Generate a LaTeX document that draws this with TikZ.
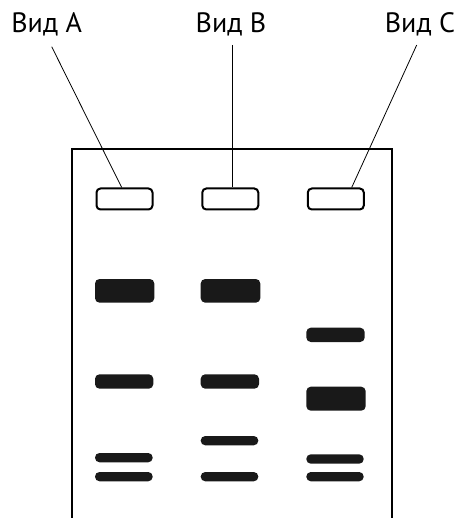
\documentclass[tikz,border=0pt]{standalone}
\usepackage{fontspec}
\setmainfont{PT Sans}
\begin{document}
\begin{tikzpicture}[x=1pt,y=-1pt,
  gel/.style={line width=2pt},
  well/.style={draw,line width=2pt,rounded corners=4pt},
  band/.style={fill=black!90,rounded corners=4.5pt},
  lead/.style={line width=0.8pt},
  lbl/.style={font=\fontsize{28}{32}\selectfont,inner sep=0pt,anchor=base}]
\useasboundingbox (0,0) rectangle (457,518);
% gel outline, open at the bottom
\draw[gel] (71.7,518) -- (71.7,149.3) -- (391.7,149.3) -- (391.7,518);
% wells
\node[well,minimum width=56pt,minimum height=21pt] (wa) at (124.5,199) {};
\node[well,minimum width=56pt,minimum height=21pt] (wb) at (230.3,199) {};
\node[well,minimum width=56pt,minimum height=21pt] (wc) at (335.8,199) {};
% labels
\node[lbl] (la) at (46.7,33) {Вид A};
\node[lbl] (lb) at (231,33) {Вид B};
\node[lbl] (lc) at (420,33) {Вид C};
\coordinate (ta) at (51.7,46.7);
\coordinate (tb) at (232.3,45);
\coordinate (tc) at (416.7,45);
\draw[lead] (ta) -- (wa.north -| 121.7,0);
\draw[lead] (tb) -- (wb.north -| 232.3,0);
\draw[lead] (tc) -- (wc.north -| 351.7,0);
% bands, lane A
\fill[band] (95,279) rectangle (154.3,302.7);
\fill[band] (95,374.3) rectangle (153.3,388.7);
\fill[band] (95,453) rectangle (152.7,462.3);
\fill[band] (95,472) rectangle (152.7,481.3);
% bands, lane B
\fill[band] (200.7,279) rectangle (260.3,302.7);
\fill[band] (200.7,374.3) rectangle (259,388.7);
\fill[band] (200.7,436) rectangle (258.3,445.3);
\fill[band] (200.7,472) rectangle (258.3,481.3);
% bands, lane C
\fill[band] (306.3,327.7) rectangle (364.7,342);
\fill[band] (306.3,386.7) rectangle (365.7,410.7);
\fill[band] (306.3,454.3) rectangle (363.7,463.7);
\fill[band] (306.3,472) rectangle (363.7,481.3);
\end{tikzpicture}
\end{document}
